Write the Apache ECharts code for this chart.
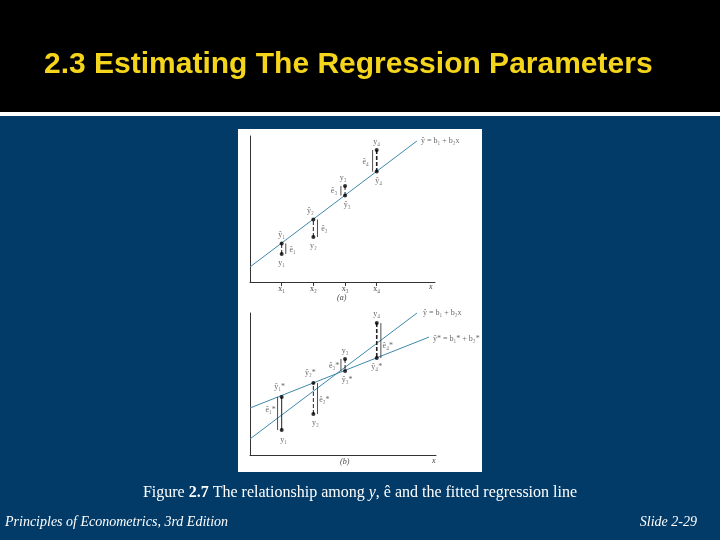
<!DOCTYPE html>
<html>
<head>
<meta charset="utf-8">
<script src="https://cdn.jsdelivr.net/npm/echarts@6/dist/echarts.min.js"></script>
<style>
  html, body { margin: 0; padding: 0; background: #023b68; }
  #chart { width: 720px; height: 540px; }
</style>
</head>
<body>
<div id="chart"></div>
<script>
// x positions of the four observations
var xObs = [1, 2, 3, 4];
var xTickLabels = ['x₁', 'x₂', 'x₃', 'x₄'];

// panel (a): observed y and fitted ŷ on the least squares line
var yObsA = [1.92, 3.08, 6.58, 9.04];
var yHatA = [2.64, 4.28, 5.92, 7.56];
var fitLineA = [[0, 1.03], [5.27, 9.66]];

// panel (b): observed y, the least squares line and another line ŷ*
var yObsB = [1.71, 2.81, 6.58, 9.04];
var yStarB = [3.97, 4.93, 5.75, 6.64];
var fitLineB = [[0, 1.1], [5.27, 9.73]];
var starLineB = [[0, 3.22], [5.65, 8.08]];

var lineColor = '#3f88aa';
var inkColor = '#222';
var txtColor = '#444';
var serif = "'Liberation Serif', 'DejaVu Serif', serif";

var chart = echarts.init(document.getElementById('chart'));

function seg(xa, x, y1, y2, dash, width) {
  return {
    type: 'line', xAxisIndex: xa, yAxisIndex: xa,
    data: [[x, y1], [x, y2]], symbol: 'none', silent: true,
    lineStyle: { color: inkColor, width: width, type: dash ? [4, 2] : 'solid' },
    z: 3
  };
}

function labels(xa, items) {
  return {
    type: 'scatter', xAxisIndex: xa, yAxisIndex: xa, symbolSize: 0, silent: true,
    data: items.map(function (it) {
      return {
        value: [it[0], it[1]],
        label: {
          show: true, formatter: it[2], offset: [it[3], it[4]],
          position: 'inside', align: it[5] || 'center',
          fontFamily: serif, fontSize: 8, color: txtColor
        }
      };
    }),
    z: 5
  };
}

var series = [];

// panel (a)
series.push({
  type: 'line', xAxisIndex: 0, yAxisIndex: 0, data: fitLineA, symbol: 'none',
  lineStyle: { color: lineColor, width: 1 }, silent: true, z: 2
});
var sideA = [1, 1, -1, -1];
xObs.forEach(function (x, i) {
  series.push(seg(0, x, yObsA[i], yHatA[i], true, i === 3 ? 1.6 : 1));
  series.push(seg(0, x + sideA[i] * 0.13, yObsA[i], yHatA[i], false, 0.8));
});
series.push({
  type: 'scatter', xAxisIndex: 0, yAxisIndex: 0, symbolSize: 4,
  itemStyle: { color: '#000' }, silent: true, z: 4,
  data: xObs.map(function (x, i) { return [x, yObsA[i]]; })
    .concat(xObs.map(function (x, i) { return [x, yHatA[i]]; }))
});
series.push(labels(0, [
  [1, yHatA[0], 'ŷ₁', 0, -9], [1, yObsA[0], 'y₁', 0, 9], [1, yHatA[0], 'ê₁', 11, 6],
  [2, yHatA[1], 'ŷ₂', -3, -9], [2, yObsA[1], 'y₂', 0, 9], [2, yHatA[1], 'ê₂', 11, 9],
  [3, yObsA[2], 'y₃', -2, -8], [3, yHatA[2], 'ŷ₃', 2, 9], [3, yHatA[2], 'ê₃', -11, -5],
  [4, yObsA[3], 'y₄', 0, -8], [4, yHatA[3], 'ŷ₄', 2, 9], [4, yHatA[3], 'ê₄', -11, -10],
  [fitLineA[1][0], fitLineA[1][1], 'ŷ = b₁ + b₂x', 4, 0, 'left']
]));

// panel (b)
series.push({
  type: 'line', xAxisIndex: 1, yAxisIndex: 1, data: fitLineB, symbol: 'none',
  lineStyle: { color: lineColor, width: 1 }, silent: true, z: 2
});
series.push({
  type: 'line', xAxisIndex: 1, yAxisIndex: 1, data: starLineB, symbol: 'none',
  lineStyle: { color: lineColor, width: 1 }, silent: true, z: 2
});
var sideB = [-1, 1, -1, 1];
xObs.forEach(function (x, i) {
  series.push(seg(1, x, yObsB[i], yStarB[i], i !== 0, i === 3 ? 1.6 : 1));
  series.push(seg(1, x + sideB[i] * 0.13, yObsB[i], yStarB[i], false, 0.8));
});
series.push({
  type: 'scatter', xAxisIndex: 1, yAxisIndex: 1, symbolSize: 4,
  itemStyle: { color: '#000' }, silent: true, z: 4,
  data: xObs.map(function (x, i) { return [x, yObsB[i]]; })
    .concat(xObs.map(function (x, i) { return [x, yStarB[i]]; }))
});
series.push(labels(1, [
  [1, yStarB[0], 'ŷ₁*', -2, -10], [1, yObsB[0], 'y₁', 2, 10], [1, yStarB[0], 'ê₁*', -11, 13],
  [2, yStarB[1], 'ŷ₂*', -3, -10], [2, yObsB[1], 'y₂', 2, 9], [2, yStarB[1], 'ê₂*', 11, 17],
  [3, yObsB[2], 'y₃', 0, -8], [3, yStarB[2], 'ŷ₃*', 2, 9], [3, yStarB[2], 'ê₃*', -11, -5],
  [4, yObsB[3], 'y₄', 0, -9], [4, yStarB[3], 'ŷ₄*', 0, 9], [4, yStarB[3], 'ê₄*', 11, -12],
  [fitLineB[1][0], fitLineB[1][1], 'ŷ = b₁ + b₂x', 6, 0, 'left'],
  [starLineB[1][0], starLineB[1][1], 'ŷ* = b₁* + b₂*', 4, 2, 'left']
]));

var axisLineStyle = { show: true, lineStyle: { color: '#333', width: 1 } };

chart.setOption({
  backgroundColor: '#023b68',
  animation: false,
  graphic: [
    { type: 'rect', shape: { x: 0, y: 0, width: 720, height: 112 }, style: { fill: '#000' }, z: -10 },
    { type: 'rect', shape: { x: 0, y: 112, width: 720, height: 4 }, style: { fill: '#fff' }, z: -10 },
    { type: 'rect', shape: { x: 238, y: 129, width: 244, height: 343 }, style: { fill: '#fff' }, z: -10 },
    { type: 'text', left: 44, top: 50, style: {
        text: '2.3 Estimating The Regression Parameters', fill: '#f5d51c',
        font: "bold 30px 'Liberation Sans', Arial, sans-serif" } },
    { type: 'text', left: 337, top: 294, style: { text: '(a)', fill: txtColor, font: "italic 8px " + serif } },
    { type: 'text', left: 429, top: 283, style: { text: 'x', fill: txtColor, font: "italic 8px " + serif } },
    { type: 'text', left: 340, top: 458, style: { text: '(b)', fill: txtColor, font: "italic 8px " + serif } },
    { type: 'text', left: 432, top: 457, style: { text: 'x', fill: txtColor, font: "italic 8px " + serif } },
    { type: 'text', left: 'center', top: 485, style: {
        text: '{n|Figure }{b|2.7}{n| The relationship among }{i|y}{n|, ê and the fitted regression line}',
        rich: {
          n: { fill: '#fff', font: "16px " + serif },
          b: { fill: '#fff', font: "bold 16px " + serif },
          i: { fill: '#fff', font: "italic 16px " + serif }
        } } },
    { type: 'text', left: 5, top: 515, style: {
        text: 'Principles of Econometrics, 3rd Edition', fill: '#fff', font: "italic 14px " + serif } },
    { type: 'text', right: 23, top: 515, style: {
        text: 'Slide 2-29', fill: '#fff', font: "italic 14px " + serif } }
  ],
  grid: [
    { left: 250, top: 136, width: 185, height: 146 },
    { left: 250, top: 313, width: 186, height: 142 }
  ],
  xAxis: [
    {
      gridIndex: 0, type: 'value', min: 0, max: 5.84,
      axisLine: axisLineStyle, splitLine: { show: false },
      axisTick: { show: true, customValues: xObs, length: 4, lineStyle: { color: '#333' } },
      axisLabel: {
        show: true, customValues: xObs, margin: 3, fontSize: 8, fontFamily: serif,
        color: txtColor, formatter: function (v) { return xTickLabels[xObs.indexOf(v)] || ''; }
      }
    },
    {
      gridIndex: 1, type: 'value', min: 0, max: 5.87,
      axisLine: axisLineStyle, splitLine: { show: false },
      axisTick: { show: false }, axisLabel: { show: false }
    }
  ],
  yAxis: [
    {
      gridIndex: 0, type: 'value', min: 0, max: 10,
      axisLine: axisLineStyle, splitLine: { show: false },
      axisTick: { show: false }, axisLabel: { show: false }
    },
    {
      gridIndex: 1, type: 'value', min: 0, max: 9.73,
      axisLine: axisLineStyle, splitLine: { show: false },
      axisTick: { show: false }, axisLabel: { show: false }
    }
  ],
  series: series
});
</script>
</body>
</html>
